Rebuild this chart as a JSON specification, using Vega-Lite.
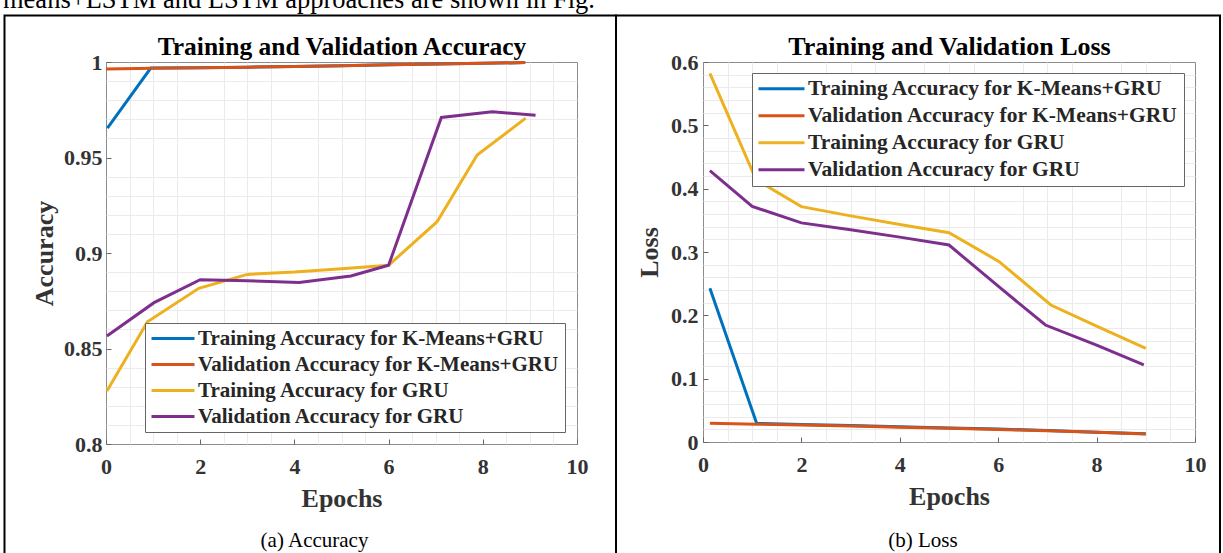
{
  "$schema": "https://vega.github.io/schema/vega-lite/v6.json",
  "background": "white",
  "padding": {"left": 2, "top": -13, "right": 0, "bottom": 0},
  "title": {
    "text": "means+LSTM and LSTM approaches are shown in Fig.",
    "anchor": "start",
    "font": "Liberation Serif",
    "fontSize": 26.5,
    "fontWeight": "normal",
    "color": "black",
    "offset": 0
  },
  "datasets": {
    "accuracy": [
      {"epoch": 0.03, "value": 0.9654, "series": "Training Accuracy for K-Means+GRU"},
      {"epoch": 0.95, "value": 0.9968, "series": "Training Accuracy for K-Means+GRU"},
      {"epoch": 2, "value": 0.997, "series": "Training Accuracy for K-Means+GRU"},
      {"epoch": 3, "value": 0.9973, "series": "Training Accuracy for K-Means+GRU"},
      {"epoch": 4, "value": 0.9977, "series": "Training Accuracy for K-Means+GRU"},
      {"epoch": 5, "value": 0.9981, "series": "Training Accuracy for K-Means+GRU"},
      {"epoch": 6, "value": 0.9985, "series": "Training Accuracy for K-Means+GRU"},
      {"epoch": 7, "value": 0.9989, "series": "Training Accuracy for K-Means+GRU"},
      {"epoch": 8, "value": 0.9993, "series": "Training Accuracy for K-Means+GRU"},
      {"epoch": 8.9, "value": 0.9997, "series": "Training Accuracy for K-Means+GRU"},
      {"epoch": 0, "value": 0.9964, "series": "Validation Accuracy for K-Means+GRU"},
      {"epoch": 1, "value": 0.9967, "series": "Validation Accuracy for K-Means+GRU"},
      {"epoch": 2, "value": 0.997, "series": "Validation Accuracy for K-Means+GRU"},
      {"epoch": 3, "value": 0.9973, "series": "Validation Accuracy for K-Means+GRU"},
      {"epoch": 4, "value": 0.9977, "series": "Validation Accuracy for K-Means+GRU"},
      {"epoch": 5, "value": 0.9981, "series": "Validation Accuracy for K-Means+GRU"},
      {"epoch": 6, "value": 0.9985, "series": "Validation Accuracy for K-Means+GRU"},
      {"epoch": 7, "value": 0.9989, "series": "Validation Accuracy for K-Means+GRU"},
      {"epoch": 8, "value": 0.9993, "series": "Validation Accuracy for K-Means+GRU"},
      {"epoch": 8.9, "value": 0.9997, "series": "Validation Accuracy for K-Means+GRU"},
      {"epoch": 0.02, "value": 0.8277, "series": "Training Accuracy for GRU"},
      {"epoch": 0.88, "value": 0.864, "series": "Training Accuracy for GRU"},
      {"epoch": 1.97, "value": 0.8815, "series": "Training Accuracy for GRU"},
      {"epoch": 3, "value": 0.8888, "series": "Training Accuracy for GRU"},
      {"epoch": 4, "value": 0.89, "series": "Training Accuracy for GRU"},
      {"epoch": 5, "value": 0.8918, "series": "Training Accuracy for GRU"},
      {"epoch": 6, "value": 0.8936, "series": "Training Accuracy for GRU"},
      {"epoch": 7.03, "value": 0.9164, "series": "Training Accuracy for GRU"},
      {"epoch": 7.88, "value": 0.9513, "series": "Training Accuracy for GRU"},
      {"epoch": 8.91, "value": 0.9706, "series": "Training Accuracy for GRU"},
      {"epoch": 0.02, "value": 0.8565, "series": "Validation Accuracy for GRU"},
      {"epoch": 1.02, "value": 0.874, "series": "Validation Accuracy for GRU"},
      {"epoch": 2, "value": 0.886, "series": "Validation Accuracy for GRU"},
      {"epoch": 3, "value": 0.8855, "series": "Validation Accuracy for GRU"},
      {"epoch": 4.1, "value": 0.8845, "series": "Validation Accuracy for GRU"},
      {"epoch": 5.2, "value": 0.888, "series": "Validation Accuracy for GRU"},
      {"epoch": 6, "value": 0.8936, "series": "Validation Accuracy for GRU"},
      {"epoch": 7.12, "value": 0.971, "series": "Validation Accuracy for GRU"},
      {"epoch": 8.2, "value": 0.974, "series": "Validation Accuracy for GRU"},
      {"epoch": 9.12, "value": 0.9721, "series": "Validation Accuracy for GRU"}
    ],
    "loss": [
      {"epoch": 0.14, "value": 0.2427, "series": "Training Accuracy for K-Means+GRU"},
      {"epoch": 1.09, "value": 0.0295, "series": "Training Accuracy for K-Means+GRU"},
      {"epoch": 2, "value": 0.0278, "series": "Training Accuracy for K-Means+GRU"},
      {"epoch": 3, "value": 0.026, "series": "Training Accuracy for K-Means+GRU"},
      {"epoch": 4, "value": 0.0242, "series": "Training Accuracy for K-Means+GRU"},
      {"epoch": 5, "value": 0.0223, "series": "Training Accuracy for K-Means+GRU"},
      {"epoch": 6, "value": 0.0205, "series": "Training Accuracy for K-Means+GRU"},
      {"epoch": 7, "value": 0.018, "series": "Training Accuracy for K-Means+GRU"},
      {"epoch": 8, "value": 0.0155, "series": "Training Accuracy for K-Means+GRU"},
      {"epoch": 9, "value": 0.013, "series": "Training Accuracy for K-Means+GRU"},
      {"epoch": 0.14, "value": 0.0295, "series": "Validation Accuracy for K-Means+GRU"},
      {"epoch": 1.09, "value": 0.0282, "series": "Validation Accuracy for K-Means+GRU"},
      {"epoch": 2, "value": 0.027, "series": "Validation Accuracy for K-Means+GRU"},
      {"epoch": 3, "value": 0.0252, "series": "Validation Accuracy for K-Means+GRU"},
      {"epoch": 4, "value": 0.0234, "series": "Validation Accuracy for K-Means+GRU"},
      {"epoch": 5, "value": 0.0216, "series": "Validation Accuracy for K-Means+GRU"},
      {"epoch": 6, "value": 0.0198, "series": "Validation Accuracy for K-Means+GRU"},
      {"epoch": 7, "value": 0.0177, "series": "Validation Accuracy for K-Means+GRU"},
      {"epoch": 8, "value": 0.0152, "series": "Validation Accuracy for K-Means+GRU"},
      {"epoch": 9, "value": 0.0127, "series": "Validation Accuracy for K-Means+GRU"},
      {"epoch": 0.14, "value": 0.582, "series": "Training Accuracy for GRU"},
      {"epoch": 1.08, "value": 0.414, "series": "Training Accuracy for GRU"},
      {"epoch": 2, "value": 0.3716, "series": "Training Accuracy for GRU"},
      {"epoch": 3, "value": 0.357, "series": "Training Accuracy for GRU"},
      {"epoch": 4, "value": 0.3435, "series": "Training Accuracy for GRU"},
      {"epoch": 5, "value": 0.3305, "series": "Training Accuracy for GRU"},
      {"epoch": 6.02, "value": 0.2848, "series": "Training Accuracy for GRU"},
      {"epoch": 7.07, "value": 0.2163, "series": "Training Accuracy for GRU"},
      {"epoch": 8, "value": 0.183, "series": "Training Accuracy for GRU"},
      {"epoch": 9, "value": 0.148, "series": "Training Accuracy for GRU"},
      {"epoch": 0.14, "value": 0.4285, "series": "Validation Accuracy for GRU"},
      {"epoch": 1, "value": 0.372, "series": "Validation Accuracy for GRU"},
      {"epoch": 2, "value": 0.346, "series": "Validation Accuracy for GRU"},
      {"epoch": 3, "value": 0.335, "series": "Validation Accuracy for GRU"},
      {"epoch": 4, "value": 0.3235, "series": "Validation Accuracy for GRU"},
      {"epoch": 5, "value": 0.311, "series": "Validation Accuracy for GRU"},
      {"epoch": 6, "value": 0.246, "series": "Validation Accuracy for GRU"},
      {"epoch": 6.96, "value": 0.1847, "series": "Validation Accuracy for GRU"},
      {"epoch": 8, "value": 0.153, "series": "Validation Accuracy for GRU"},
      {"epoch": 8.96, "value": 0.1216, "series": "Validation Accuracy for GRU"}
    ]
  },
  "spacing": -4,
  "hconcat": [
    {
      "width": 471,
      "height": 382,
      "title": {"text": "(a) Accuracy", "orient": "bottom", "frame": "group", "offset": -31, "dx": -27, "fontSize": 21, "fontWeight": "normal", "font": "Liberation Serif", "color": "black"},
      "layer": [
        {
          "data": {"values": [{}]},
          "mark": {"type": "rect", "filled": false, "stroke": "black", "strokeWidth": 2, "clip": false},
          "encoding": {
            "x": {"datum": -2.155, "type": "quantitative", "scale": {"domain": [0, 10], "nice": false},
              "axis": {"orient": "top", "values": [0.5, 1, 1.5, 2.5, 3, 3.5, 4.5, 5, 5.5, 6.5, 7, 7.5, 8.5, 9, 9.5], "grid": true, "gridColor": "#ebebeb", "labels": false, "ticks": false, "domain": false, "title": "Training and Validation Accuracy", "titleFontSize": 25.5, "titleColor": "black", "titlePadding": 3}},
            "x2": {"datum": 10.828},
            "y": {"datum": 1.02435, "type": "quantitative", "scale": {"domain": [0.8, 1], "nice": false},
              "axis": {"orient": "right", "values": [0.81, 0.82, 0.83, 0.84, 0.86, 0.87, 0.88, 0.89, 0.91, 0.92, 0.93, 0.94, 0.96, 0.97, 0.98, 0.99], "grid": true, "gridColor": "#ebebeb", "labels": false, "ticks": false, "domain": false, "title": null}},
            "y2": {"datum": 0.7393}
          }
        },
        {
          "data": {"name": "accuracy"},
          "mark": {"type": "line", "strokeWidth": 3},
          "encoding": {
            "x": {"field": "epoch", "type": "quantitative", "scale": {"domain": [0, 10], "nice": false},
              "axis": {"orient": "bottom", "values": [0, 2, 4, 6, 8, 10], "title": "Epochs", "labelPadding": 17, "titlePadding": 8}},
            "y": {"field": "value", "type": "quantitative", "scale": {"domain": [0.8, 1], "nice": false},
              "axis": {"orient": "left", "values": [0.8, 0.85, 0.9, 0.95, 1], "format": "~g", "title": "Accuracy", "labelPadding": 9, "titlePadding": 6}},
            "color": {"field": "series", "type": "nominal",
              "scale": {"domain": ["Training Accuracy for K-Means+GRU", "Validation Accuracy for K-Means+GRU", "Training Accuracy for GRU", "Validation Accuracy for GRU"], "range": ["#0072BD", "#D95319", "#EDB120", "#7E2F8E"]},
              "legend": {"orient": "bottom-right", "offset": 12, "labelFontSize": 21, "symbolSize": 1849, "clipHeight": 21, "rowPadding": 4}}
          }
        }
      ]
    },
    {
      "width": 492,
      "height": 380,
      "title": {"text": "(b) Loss", "orient": "bottom", "frame": "group", "offset": -31, "dx": -26, "fontSize": 21, "fontWeight": "normal", "font": "Liberation Serif", "color": "black"},
      "layer": [
        {
          "data": {"values": [{}]},
          "mark": {"type": "rect", "filled": false, "stroke": "black", "strokeWidth": 2, "clip": false},
          "encoding": {
            "x": {"datum": -1.768, "type": "quantitative", "scale": {"domain": [0, 10], "nice": false},
              "axis": {"orient": "top", "values": [0.5, 1, 1.5, 2.5, 3, 3.5, 4.5, 5, 5.5, 6.5, 7, 7.5, 8.5, 9, 9.5], "grid": true, "gridColor": "#ebebeb", "labels": false, "ticks": false, "domain": false, "title": "Training and Validation Loss", "titleFontSize": 26, "titleColor": "black", "titlePadding": 3}},
            "x2": {"datum": 10.508},
            "y": {"datum": 0.6734, "type": "quantitative", "scale": {"domain": [0, 0.6], "nice": false},
              "axis": {"orient": "right", "values": [0.02, 0.04, 0.06, 0.08, 0.12, 0.14, 0.16, 0.18, 0.22, 0.24, 0.26, 0.28, 0.32, 0.34, 0.36, 0.38, 0.42, 0.44, 0.46, 0.48, 0.52, 0.54, 0.56, 0.58], "grid": true, "gridColor": "#ebebeb", "labels": false, "ticks": false, "domain": false, "title": null}},
            "y2": {"datum": -0.1863}
          }
        },
        {
          "data": {"name": "loss"},
          "mark": {"type": "line", "strokeWidth": 3},
          "encoding": {
            "x": {"field": "epoch", "type": "quantitative", "scale": {"domain": [0, 10], "nice": false},
              "axis": {"orient": "bottom", "values": [0, 2, 4, 6, 8, 10], "title": "Epochs", "labelPadding": 17, "titlePadding": 8}},
            "y": {"field": "value", "type": "quantitative", "scale": {"domain": [0, 0.6], "nice": false},
              "axis": {"orient": "left", "values": [0, 0.1, 0.2, 0.3, 0.4, 0.5, 0.6], "format": "~g", "title": "Loss", "labelPadding": 10, "titlePadding": 8}},
            "color": {"field": "series", "type": "nominal",
              "scale": {"domain": ["Training Accuracy for K-Means+GRU", "Validation Accuracy for K-Means+GRU", "Training Accuracy for GRU", "Validation Accuracy for GRU"], "range": ["#0072BD", "#D95319", "#EDB120", "#7E2F8E"]},
              "legend": {"orient": "top-right", "offset": 11, "labelFontSize": 21.5, "symbolSize": 2116, "clipHeight": 21.5, "rowPadding": 4}}
          }
        }
      ]
    }
  ],
  "resolve": {"scale": {"color": "independent"}},
  "config": {
    "font": "Liberation Serif",
    "view": {"stroke": "#8c8c8c", "strokeWidth": 1},
    "axis": {
      "labelFont": "Liberation Serif",
      "labelFontWeight": "bold",
      "labelFontSize": 22,
      "labelColor": "#333333",
      "labelFlush": false,
      "titleFont": "Liberation Serif",
      "titleFontWeight": "bold",
      "titleFontSize": 26,
      "titleColor": "#333333",
      "domain": false,
      "grid": true,
      "gridColor": "#d8d8d8",
      "tickColor": "#666666",
      "tickSize": -5
    },
    "legend": {
      "title": null,
      "symbolType": "stroke",
      "symbolStrokeWidth": 3,
      "labelFont": "Liberation Serif",
      "labelFontWeight": "bold",
      "labelColor": "#262626",
      "labelLimit": 0,
      "labelOffset": 2,
      "strokeColor": "#666666",
      "fillColor": "white",
      "padding": 5,
      "symbolOffset": 0
    }
  }
}
